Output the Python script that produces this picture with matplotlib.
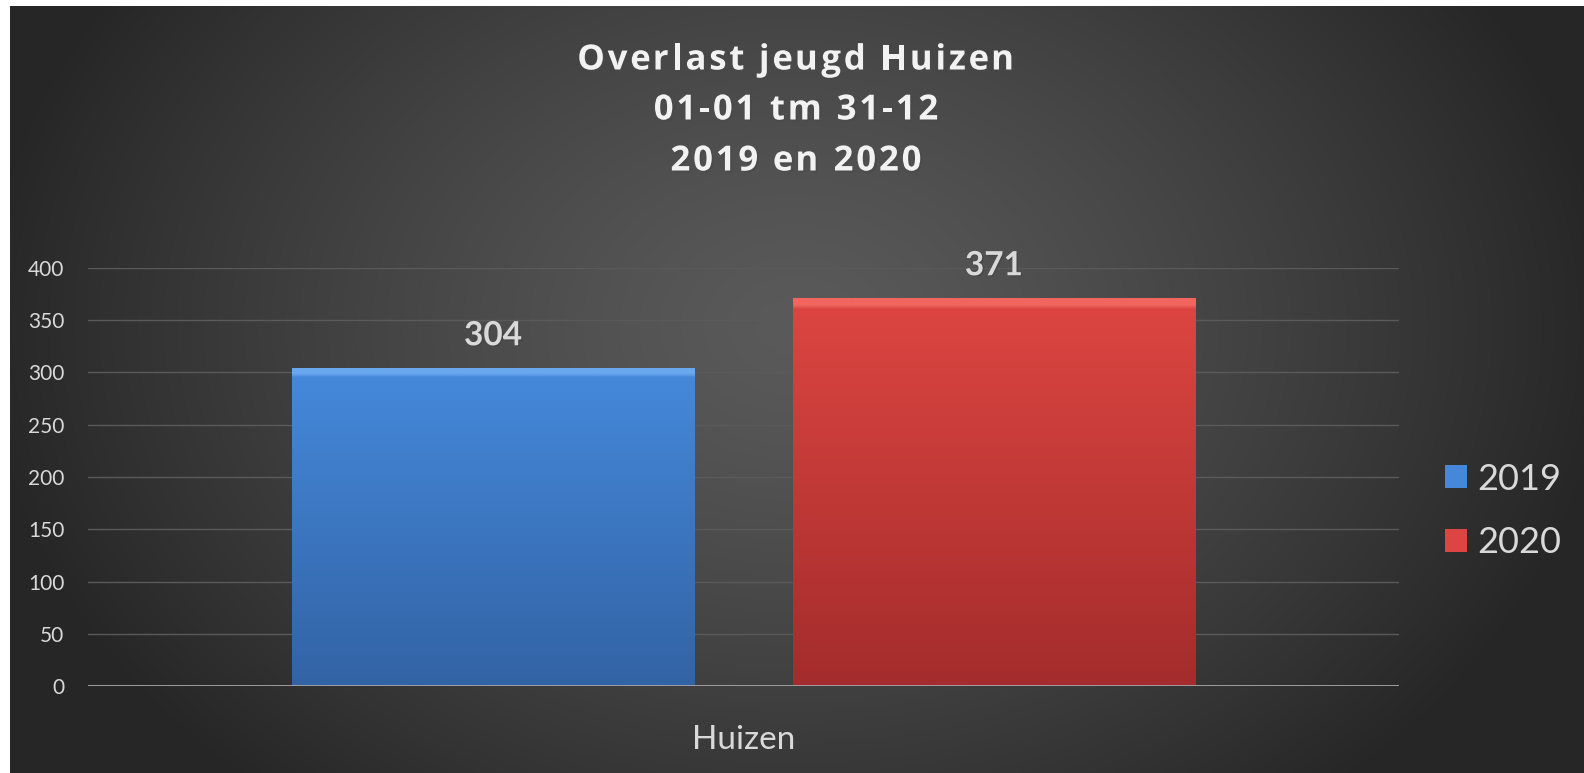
import numpy as np
import matplotlib
matplotlib.use("Agg")
import matplotlib.pyplot as plt
import matplotlib.patheffects as pe
from matplotlib.colors import LinearSegmentedColormap
from matplotlib.font_manager import FontProperties

# data
categories = ["Huizen"]
series_names = ["2019", "2020"]
values_2019 = [304]
values_2020 = [371]
y_ticks = [0, 50, 100, 150, 200, 250, 300, 350, 400]

title_lines = ["Overlast jeugd Huizen", "01-01 tm 31-12", "2019 en 2020"]

# kleuren (boven -> onder)
bar_colors = {
    "2019": ("#6aa8ee", "#4588da", "#3263a5"),
    "2020": ("#f26560", "#dc4541", "#a42c2c"),
}
text_color = "#d9d9d9"

plt.rcParams["font.family"] = ["Lato", "DejaVu Sans"]

W, H = 1584, 773
fig = plt.figure(figsize=(W / 100, H / 100), dpi=100, facecolor="white")

# achtergrond met radiaal verloop
bg = fig.add_axes([10 / W, 0, 1 - 10 / W, (H - 6) / H])
bg.set_axis_off()
yy, xx = np.mgrid[0:767, 0:1574]
r = np.sqrt(((xx - 785) / 820.0) ** 2 + ((yy - 320) / 620.0) ** 2)
r = np.clip(r, 0, 1) ** 1.3
c_mid, c_edge = 0x5a, 0x26
gray = (c_mid + (c_edge - c_mid) * r) / 255.0
bg.imshow(np.dstack([gray, gray, gray]), aspect="auto", interpolation="bilinear")

ax = fig.add_axes([88 / W, 87 / H, (1399 - 88) / W, 418 / H])
ax.patch.set_alpha(0)

x = np.arange(len(categories))
width = 0.307
offsets = [-0.191, 0.191]
all_values = [values_2019, values_2020]

for name, vals, off in zip(series_names, all_values, offsets):
    top, mid, bot = bar_colors[name]
    bars = ax.bar(x + off, vals, width, color=mid, label=name, zorder=3,
                  edgecolor="none")
    # verloop in elke staaf
    cmap = LinearSegmentedColormap.from_list(
        "g" + name, [(0, bot), (0.975, mid), (0.985, top), (1.0, top)])
    grad = np.linspace(0, 1, 400).reshape(-1, 1)
    for b in bars:
        x0, w, h = b.get_x(), b.get_width(), b.get_height()
        im = ax.imshow(grad, cmap=cmap, aspect="auto", origin="lower",
                       extent=[x0, x0 + w, 0, h], zorder=4)
        im.set_clip_path(b)
        ax.annotate(f"{h:.0f}", (x0 + w / 2, h), xytext=(0, 13),
                    textcoords="offset points", ha="center", va="bottom",
                    fontsize=24, fontweight="bold", color=text_color,
                    annotation_clip=False, zorder=5,
                    path_effects=[pe.withSimplePatchShadow(offset=(1, -1), alpha=0.6)])

ax.set_xlim(-0.5, 0.5)
ax.set_ylim(0, 400)
ax.set_yticks(y_ticks)
ax.set_xticks(x)
ax.set_xticklabels(categories, fontsize=24, color=text_color)
ax.tick_params(axis="y", length=0, pad=17, labelsize=15, labelcolor=text_color)
ax.tick_params(axis="x", length=0, pad=28)

for s in ax.spines.values():
    s.set_visible(False)
ax.grid(axis="y", color="#5a5a5a", linewidth=1, zorder=0)
ax.axhline(0, color="#a6a6a6", linewidth=2, zorder=5)

leg = ax.legend(loc="center left", bbox_to_anchor=(1.024, 0.419), frameon=False,
                fontsize=26, labelcolor=text_color, handlelength=0.6,
                handleheight=0.6, handletextpad=0.3, labelspacing=0.85,
                borderaxespad=0.0)

# titel met extra letterafstand, regel voor regel
renderer = fig.canvas.get_renderer()
tprop = FontProperties(family=["Open Sans", "DejaVu Sans"], weight="bold", size=25)


def text_w(s):
    # breedte in pixels, ook als s op een spatie eindigt
    w_x = renderer.get_text_width_height_descent("x", tprop, ismath=False)[0]
    return renderer.get_text_width_height_descent(s + "x", tprop, ismath=False)[0] - w_x


spacing = 2.8
for line, ypix in zip(title_lines, [56, 106, 157]):
    total = text_w(line) + spacing * (len(line) - 1)
    start = 796 - total / 2
    for k, ch in enumerate(line):
        if ch == " ":
            continue
        xpix = start + (text_w(line[:k]) if k else 0) + k * spacing
        fig.text(xpix / W, 1 - ypix / H, ch, ha="left", va="center_baseline",
                 fontproperties=tprop, color="#f2f2f2",
                 path_effects=[pe.withSimplePatchShadow(offset=(1.5, -1.5), alpha=0.6)])

fig.savefig("out.png", dpi=100, facecolor="white")
